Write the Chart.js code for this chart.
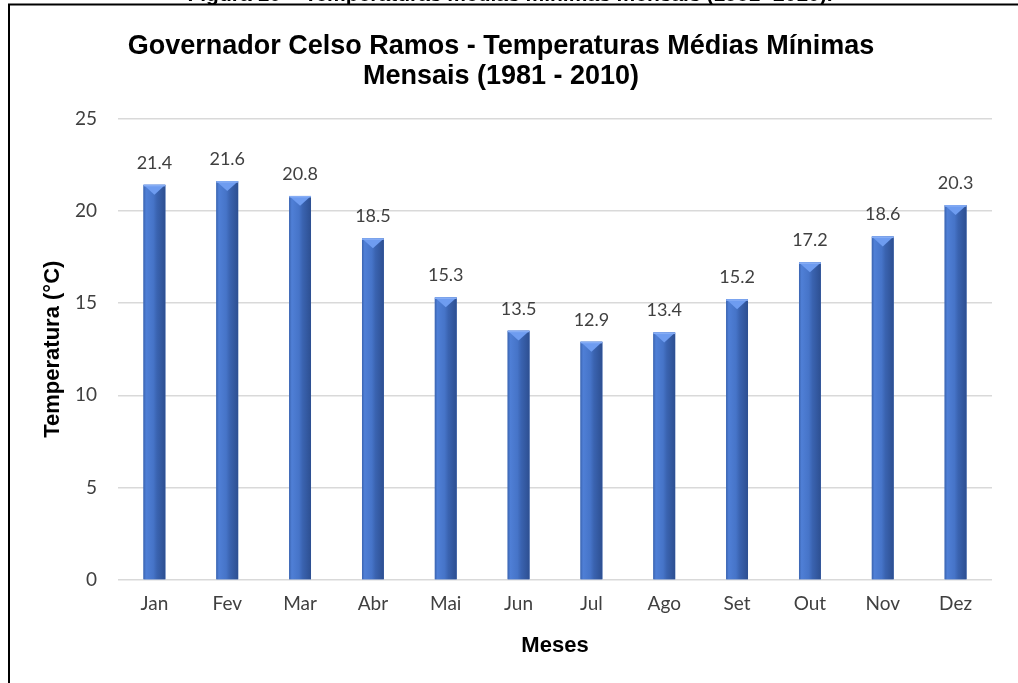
<!DOCTYPE html>
<html>
<head>
<meta charset="utf-8">
<script src="https://cdn.jsdelivr.net/npm/chart.js@4.4.1/dist/chart.umd.min.js"></script>
<style>
  html, body { margin: 0; padding: 0; background: #fff; }
  #wrap { width: 1018px; height: 683px; position: relative; }
</style>
</head>
<body>
<div id="wrap"><canvas id="grafico"></canvas></div>
<script>
// datos del gráfico
const meses = ['Jan', 'Fev', 'Mar', 'Abr', 'Mai', 'Jun', 'Jul', 'Ago', 'Set', 'Out', 'Nov', 'Dez'];
const temperaturas = [21.4, 21.6, 20.8, 18.5, 15.3, 13.5, 12.9, 13.4, 15.2, 17.2, 18.6, 20.3];
const ticksY = [0, 5, 10, 15, 20, 25];

const leyendaFigura = 'Figura 10 – Temperaturas médias mínimas mensais (1981- 2010).';
const titulo = ['Governador Celso Ramos - Temperaturas Médias Mínimas', 'Mensais (1981 - 2010)'];

// marco y leyenda cortada arriba
const marco = {
    id: 'marco',
    beforeDraw(chart) {
        const c = chart.ctx;
        c.save();
        c.fillStyle = '#fff';
        c.fillRect(0, 0, chart.width, chart.height);
        c.fillStyle = '#000';
        c.font = 'bold 21px "Liberation Sans", Arial, sans-serif';
        c.textAlign = 'center';
        c.textBaseline = 'alphabetic';
        c.fillText(leyendaFigura, 510, 1);
        c.strokeStyle = '#000';
        c.lineWidth = 2;
        c.beginPath();
        c.moveTo(9, 683);
        c.lineTo(9, 4.5);
        c.lineTo(1018, 4.5);
        c.stroke();
        c.restore();
    }
};

// sombreado de las barras y etiquetas de valores
const barras3d = {
    id: 'barras3d',
    afterDatasetsDraw(chart) {
        const c = chart.ctx;
        const meta = chart.getDatasetMeta(0);
        c.save();
        meta.data.forEach((bar, i) => {
            const w = bar.width;
            const x0 = bar.x - w / 2;
            const x1 = bar.x + w / 2;
            const top = bar.y;
            const base = bar.base;
            const g = c.createLinearGradient(x0, 0, x1, 0);
            g.addColorStop(0, '#3b64b0');
            g.addColorStop(0.12, '#4f7fd6');
            g.addColorStop(0.45, '#4674c8');
            g.addColorStop(0.62, '#3a63b0');
            g.addColorStop(1, '#2d4f91');
            c.fillStyle = g;
            c.fillRect(x0, top, w, base - top);
            // bisel superior
            c.fillStyle = '#6e9cf0';
            c.beginPath();
            c.moveTo(x0, top);
            c.lineTo(x1, top);
            c.lineTo(bar.x, top + w * 0.45);
            c.closePath();
            c.fill();
            c.fillStyle = '#86adf5';
            c.fillRect(x0, top, w, 1.5);

            c.fillStyle = '#404040';
            c.font = '18px Lato, "Open Sans", sans-serif';
            c.textAlign = 'center';
            c.textBaseline = 'middle';
            c.fillText(temperaturas[i].toFixed(1), bar.x, top - 22);
        });
        c.restore();
    }
};

const ctx = document.getElementById('grafico');
const grafico = new Chart(ctx, {
    type: 'bar',
    data: {
        labels: meses,
        datasets: [{
            label: 'Temperatura',
            data: temperaturas,
            backgroundColor: '#4472c4',
            barPercentage: 0.6,
            categoryPercentage: 0.5
        }]
    },
    options: {
        responsive: true,
        maintainAspectRatio: false,
        animation: false,
        devicePixelRatio: 1,
        layout: { padding: { left: 10, right: 26, top: 5, bottom: 0 } },
        plugins: {
            legend: { display: false },
            tooltip: { enabled: false },
            title: {
                display: true,
                text: titulo,
                color: '#000',
                font: { family: '"Liberation Sans", Arial, sans-serif', size: 27, weight: 'bold', lineHeight: 1.1 },
                padding: { top: 27, bottom: 27 }
            }
        },
        scales: {
            x: {
                grid: { display: false, drawTicks: false },
                border: { display: false },
                ticks: {
                    color: '#404040',
                    font: { family: 'Lato, "Open Sans", sans-serif', size: 19 },
                    padding: 12
                },
                title: {
                    display: true,
                    text: 'Meses',
                    color: '#000',
                    font: { family: '"Liberation Sans", Arial, sans-serif', size: 22, weight: 'bold' },
                    padding: { top: 10, bottom: 24 }
                },
                afterFit(scale) { scale.height = 103; }
            },
            y: {
                min: 0,
                max: 25,
                afterBuildTicks(scale) { scale.ticks = ticksY.map(v => ({ value: v })); },
                grid: { color: '#d9d9d9', lineWidth: 1.5, drawTicks: false },
                border: { display: false },
                ticks: {
                    color: '#404040',
                    font: { family: 'Lato, "Open Sans", sans-serif', size: 19 },
                    padding: 21
                },
                title: {
                    display: true,
                    text: 'Temperatura (°C)',
                    color: '#000',
                    font: { family: '"Liberation Sans", Arial, sans-serif', size: 22, weight: 'bold' },
                    padding: { top: 30, bottom: 0 }
                },
                afterFit(scale) { scale.width = 108; }
            }
        }
    },
    plugins: [marco, barras3d]
});
</script>
</body>
</html>
